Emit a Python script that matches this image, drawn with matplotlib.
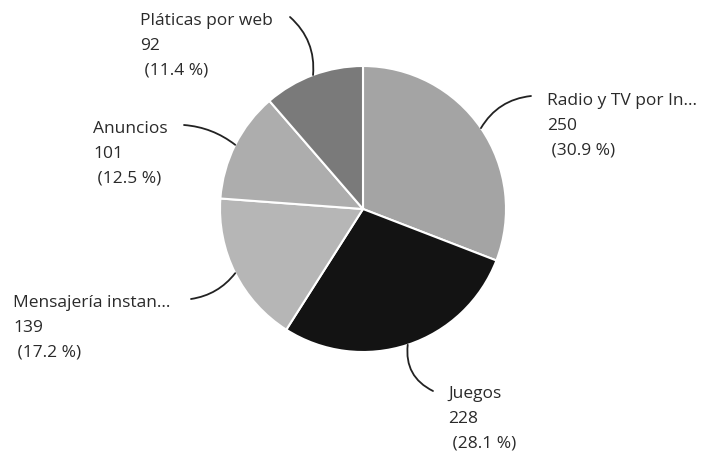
import matplotlib
matplotlib.use("Agg")
import numpy as np
import matplotlib.pyplot as plt

# data
labels = ["Radio y TV por In...", "Juegos", "Mensajería instan...", "Anuncios", "Pláticas por web"]
values = [250, 228, 139, 101, 92]
colors = ["#a4a4a4", "#131313", "#b6b6b6", "#adadad", "#7a7a7a"]

# where each label block sits (pixels from top-left) and where its leader starts
label_pos = [(547, 93), (448, 386), (13, 295), (93, 121), (140, 13)]
leader_start = [(531, 97), (433, 392), (191, 300), (184, 126), (290, 18)]
leader_rad = [0.25, -0.35, 0.2, -0.15, -0.25]

W, H = 710, 456
cx, cy, R = 363, 210, 143

plt.rcParams['font.family'] = ['Open Sans', 'DejaVu Sans']

fig = plt.figure(figsize=(W / 100, H / 100), dpi=100)
ax = fig.add_axes([0, 0, 1, 1])

wedges, _ = ax.pie(values, colors=colors, startangle=90, counterclock=False,
                   radius=1, center=(0, 0),
                   wedgeprops=dict(edgecolor='white', linewidth=1.5))

# pie() sets its own limits, so fix them afterwards
ax.set_xlim(-cx / R, (W - cx) / R)
ax.set_ylim(-(H - cy) / R, cy / R)
ax.set_aspect('equal')
ax.axis('off')

def px(p):
    return ((p[0] - cx) / R, (cy - p[1]) / R)

total = sum(values)
for i, w in enumerate(wedges):
    mid = np.deg2rad((w.theta1 + w.theta2) / 2)
    edge = (np.cos(mid), np.sin(mid))
    txt = f"{labels[i]}\n{values[i]}\n ({values[i] / total * 100:.1f} %)"
    ax.text(*px(label_pos[i]), txt, ha='left', va='top', fontsize=12.5,
            color='#2a2a2a', linespacing=1.72)
    ax.annotate("", xy=edge, xytext=px(leader_start[i]),
                arrowprops=dict(arrowstyle='-', color='#222222', lw=1.3,
                                shrinkA=0, shrinkB=0,
                                connectionstyle=f"arc3,rad={leader_rad[i]}"))

fig.savefig("out.png", dpi=100, facecolor='white')
